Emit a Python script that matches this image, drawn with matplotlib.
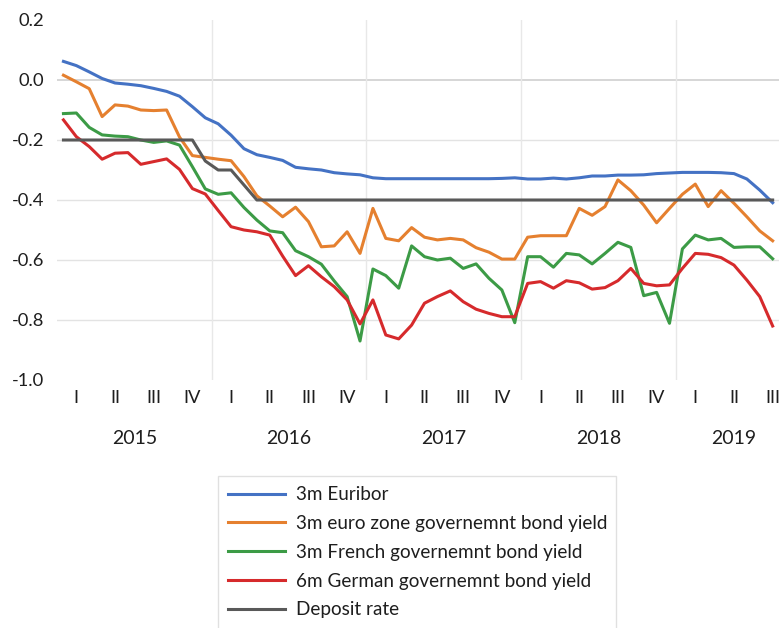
import numpy as np
import matplotlib
matplotlib.use("Agg")
import matplotlib.pyplot as plt

plt.rcParams['font.family'] = ['Lato', 'DejaVu Sans']
plt.rcParams['axes.unicode_minus'] = False

# monthly values, Jan 2015 - Aug 2019
euribor_3m = [0.062, 0.048, 0.027, 0.005, -0.010, -0.014, -0.019, -0.028, -0.038, -0.054, -0.089, -0.126,
              -0.146, -0.184, -0.229, -0.249, -0.258, -0.268, -0.291, -0.296, -0.300, -0.309, -0.313, -0.316,
              -0.326, -0.329, -0.329, -0.329, -0.329, -0.329, -0.329, -0.329, -0.329, -0.329, -0.328, -0.326,
              -0.330, -0.330, -0.327, -0.330, -0.326, -0.320, -0.320, -0.317, -0.317, -0.316, -0.312, -0.310,
              -0.308, -0.308, -0.308, -0.309, -0.312, -0.330, -0.367, -0.409]
ez_3m = [0.016, -0.006, -0.029, -0.122, -0.083, -0.087, -0.100, -0.102, -0.100, -0.190, -0.252, -0.258,
         -0.264, -0.269, -0.322, -0.386, -0.420, -0.456, -0.424, -0.472, -0.556, -0.553, -0.506, -0.578,
         -0.428, -0.528, -0.536, -0.492, -0.524, -0.533, -0.528, -0.533, -0.559, -0.574, -0.597, -0.597,
         -0.524, -0.519, -0.519, -0.519, -0.428, -0.451, -0.422, -0.333, -0.369, -0.417, -0.476, -0.428,
         -0.381, -0.347, -0.422, -0.369, -0.411, -0.456, -0.503, -0.536]
fr_3m = [-0.112, -0.110, -0.158, -0.183, -0.187, -0.189, -0.200, -0.208, -0.203, -0.217, -0.289, -0.363,
         -0.381, -0.376, -0.425, -0.467, -0.503, -0.509, -0.569, -0.589, -0.614, -0.670, -0.722, -0.870,
         -0.630, -0.652, -0.694, -0.553, -0.589, -0.600, -0.594, -0.628, -0.613, -0.661, -0.700, -0.809,
         -0.589, -0.589, -0.624, -0.578, -0.583, -0.613, -0.578, -0.541, -0.558, -0.719, -0.708, -0.811,
         -0.563, -0.517, -0.533, -0.528, -0.558, -0.556, -0.556, -0.596]
de_6m = [-0.133, -0.189, -0.222, -0.264, -0.244, -0.242, -0.281, -0.272, -0.263, -0.298, -0.362, -0.380,
         -0.435, -0.489, -0.500, -0.506, -0.517, -0.587, -0.652, -0.619, -0.656, -0.689, -0.733, -0.813,
         -0.733, -0.850, -0.863, -0.817, -0.744, -0.722, -0.703, -0.739, -0.764, -0.778, -0.789, -0.789,
         -0.678, -0.672, -0.694, -0.669, -0.676, -0.697, -0.692, -0.669, -0.628, -0.678, -0.686, -0.683,
         -0.628, -0.578, -0.581, -0.592, -0.617, -0.667, -0.722, -0.820]
deposit = [-0.2, -0.2, -0.2, -0.2, -0.2, -0.2, -0.2, -0.2, -0.2, -0.2, -0.2, -0.27,
           -0.3, -0.3, -0.35, -0.4, -0.4, -0.4, -0.4, -0.4, -0.4, -0.4, -0.4, -0.4,
           -0.4, -0.4, -0.4, -0.4, -0.4, -0.4, -0.4, -0.4, -0.4, -0.4, -0.4, -0.4,
           -0.4, -0.4, -0.4, -0.4, -0.4, -0.4, -0.4, -0.4, -0.4, -0.4, -0.4, -0.4,
           -0.4, -0.4, -0.4, -0.4, -0.4, -0.4, -0.4, -0.4]

series_labels = ['3m Euribor', '3m euro zone governemnt bond yield', '3m French governemnt bond yield',
                 '6m German governemnt bond yield', 'Deposit rate']
colors = ['#4472C4', '#E5802F', '#3C9B46', '#D62A2C', '#595959']

y_ticks = [-1.0, -0.8, -0.6, -0.4, -0.2, 0.0, 0.2]
y_ticklabels = ['-1.0', '-0.8', '-0.6', '-0.4', '-0.2', '0.0', '0.2']
years = ['2015', '2016', '2017', '2018', '2019']
quarters = ['I', 'II', 'III', 'IV']
n_quarters = 19

txt = '#1e1e1e'
fs = 13.2

fig = plt.figure(figsize=(7.79, 6.28), dpi=100)
W, H = 779, 628
ax = fig.add_axes([57 / W, 1 - 380 / H, 735 / W, 360 / H])

x = np.arange(len(euribor_3m)) + 0.5
for vals, lab, c in zip([euribor_3m, ez_3m, fr_3m, de_6m, deposit], series_labels, colors):
    ax.plot(x, vals, color=c, lw=2.2, label=lab, solid_joinstyle='round')

ax.set_xlim(0, 57)
ax.set_ylim(-1.0, 0.2)

# grid
for yv in [-0.2, -0.4, -0.6, -0.8]:
    ax.axhline(yv, color='#e3e3e3', lw=1, zorder=0)
ax.axhline(0.0, color='#d0d0d0', lw=1.2, zorder=0)
for xv in [12, 24, 36, 48]:
    ax.axvline(xv, color='#e8e8e8', lw=1, zorder=0)

for s in ax.spines.values():
    s.set_visible(False)
ax.set_yticks(y_ticks)
ax.set_yticklabels(y_ticklabels, fontsize=fs, color=txt)
ax.tick_params(axis='y', length=0, pad=9)
ax.set_xticks([])

# quarter and year labels
for q in range(n_quarters):
    ax.text(q * 3 + 1.5, -1.0 - 18 / 300, quarters[q % 4], ha='center', va='center',
            fontsize=fs, color=txt)
for k, yr in enumerate(years):
    nq = min(4, n_quarters - 4 * k)
    ax.text(12 * k + nq * 1.5, -1.0 - 58 / 300, yr, ha='center', va='center',
            fontsize=14, color=txt)

leg = fig.legend(loc='upper left', bbox_to_anchor=(218 / W, 1 - 476 / H - 0.01, 398 / W, 0.01),
                 mode='expand', fontsize=13.6, frameon=True, fancybox=False,
                 edgecolor='#d9d9d9', handlelength=3.0, handletextpad=0.6,
                 labelspacing=0.62, borderpad=0.55, borderaxespad=0)
leg.get_frame().set_linewidth(1)
for t in leg.get_texts():
    t.set_color(txt)

fig.savefig('out.png', dpi=100)
